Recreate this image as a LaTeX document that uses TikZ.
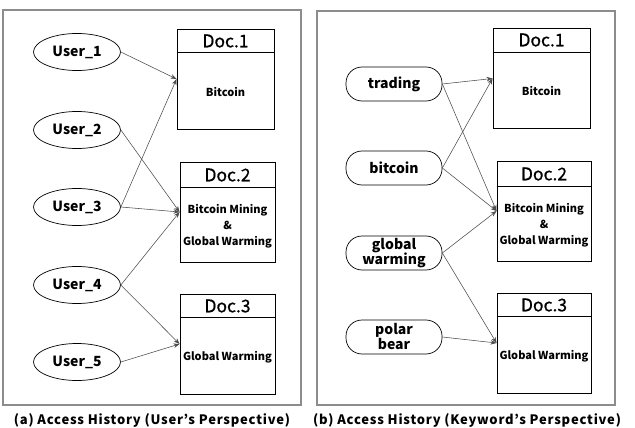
\documentclass[tikz,border=0pt]{standalone}
\usepackage{fontspec}
\setmainfont{Noto Sans CJK KR}
\newfontfamily\capfont[LetterSpace=6]{Noto Sans CJK KR}
\newfontfamily\docfont[FakeBold=0.7]{Noto Sans CJK KR}
\usetikzlibrary{shapes.geometric,arrows.meta,calc}
\tikzset{
  frame/.style={draw=black!45, line width=1.4pt},
  user/.style={ellipse, draw, line width=0.7pt, minimum width=87pt, minimum height=37pt, inner sep=0pt, font=\bfseries\fontsize{14}{16}\selectfont},
  kw/.style={rectangle, rounded corners=16pt, draw, line width=0.7pt, minimum width=96pt, minimum height=34pt, inner sep=0pt, align=center, font=\bfseries\fontsize{14}{15}\selectfont},
  docbox/.style={rectangle, draw, line width=0.9pt, minimum width=95pt, minimum height=100pt, inner sep=0pt},
  doctitle/.style={font=\docfont\fontsize{17.5}{18}\selectfont, inner sep=0pt},
  docbody/.style={font=\bfseries\fontsize{11}{16}\selectfont, align=center, inner sep=0pt},
  link/.style={draw=black!70, line width=0.55pt, -{Stealth[length=6pt,width=4.5pt]}},
  captext/.style={font=\capfont\bfseries\fontsize{13}{15}\selectfont, inner sep=0pt},
}
\begin{document}
\begin{tikzpicture}[x=1pt,y=-1pt]
\useasboundingbox (0,0) rectangle (635,428);
% frames
\draw[frame] (3,10) rectangle (301,405);
\draw[frame] (317,11) rectangle (615,405);
% left panel users
\node[user] (u1) at (77,52) {User\_1};
\node[user] (u2) at (77,130) {User\_2};
\node[user] (u3) at (77,207) {User\_3};
\node[user] (u4) at (77,285) {User\_4};
\node[user] (u5) at (77,362) {User\_5};
% left panel docs
\node[docbox, minimum width=97pt] (a1) at (225.5,79) {};
\node[docbox] (a2) at (227.5,212) {};
\node[docbox] (a3) at (227.5,344) {};
\draw[line width=0.9pt] ($(a1.north west)+(0,24)$) -- ($(a1.north east)+(0,24)$);
\draw[line width=0.9pt] ($(a2.north west)+(0,26)$) -- ($(a2.north east)+(0,26)$);
\draw[line width=0.9pt] ($(a3.north west)+(0,24)$) -- ($(a3.north east)+(0,24)$);
\node[doctitle] (a1t) at (225.5,41) {Doc.1};
\node[doctitle] (a2t) at (227.5,175) {Doc.2};
\node[doctitle] (a3t) at (227.5,306) {Doc.3};
\node[docbody] (a1b) at (225.5,92) {Bitcoin};
\node[docbody] (a2b) at (227.5,226) {Bitcoin Mining\\\&\\Global Warming};
\node[docbody] (a3b) at (227.5,357) {Global Warming};
% left links
\draw[link] (u1.east) -- (a1.west);
\draw[link] (u3.east) -- (a1.west);
\draw[link] (u2.east) -- (a2.west);
\draw[link] (u3.east) -- (a2.west);
\draw[link] (u4.east) -- (a2.west);
\draw[link] (u4.east) -- (a3.west);
\draw[link] (u5.east) -- (a3.west);
% right panel keywords
\node[kw] (k1) at (394,84) {trading};
\node[kw] (k2) at (394,168) {bitcoin};
\node[kw] (k3) at (394,253) {global\\warming};
\node[kw] (k4) at (394,337) {polar\\bear};
% right panel docs
\node[docbox, minimum width=97pt] (b1) at (541.5,78.5) {};
\node[docbox, minimum width=94pt] (b2) at (544,211) {};
\node[docbox, minimum width=94pt] (b3) at (544,343) {};
\draw[line width=0.9pt] ($(b1.north west)+(0,24)$) -- ($(b1.north east)+(0,24)$);
\draw[line width=0.9pt] ($(b2.north west)+(0,26)$) -- ($(b2.north east)+(0,26)$);
\draw[line width=0.9pt] ($(b3.north west)+(0,24)$) -- ($(b3.north east)+(0,24)$);
\node[doctitle] (b1t) at (541.5,40) {Doc.1};
\node[doctitle] (b2t) at (544,174) {Doc.2};
\node[doctitle] (b3t) at (544,305) {Doc.3};
\node[docbody] (b1b) at (541.5,91) {Bitcoin};
\node[docbody] (b2b) at (544,225) {Bitcoin Mining\\\&\\Global Warming};
\node[docbody] (b3b) at (544,356) {Global Warming};
% right links
\draw[link] (k1.east) -- (b1.west);
\draw[link] (k2.east) -- (b1.west);
\draw[link] (k1.east) -- (b2.west);
\draw[link] (k2.east) -- (b2.west);
\draw[link] (k3.east) -- (b2.west);
\draw[link] (k3.east) -- (b3.west);
\draw[link] (k4.east) -- (b3.west);
% captions
\node[captext] (ca) at (152,420) {(a) Access History (User’s Perspective)};
\node[captext] (cb) at (467,420) {(b) Access History (Keyword’s Perspective)};
\end{tikzpicture}
\end{document}
